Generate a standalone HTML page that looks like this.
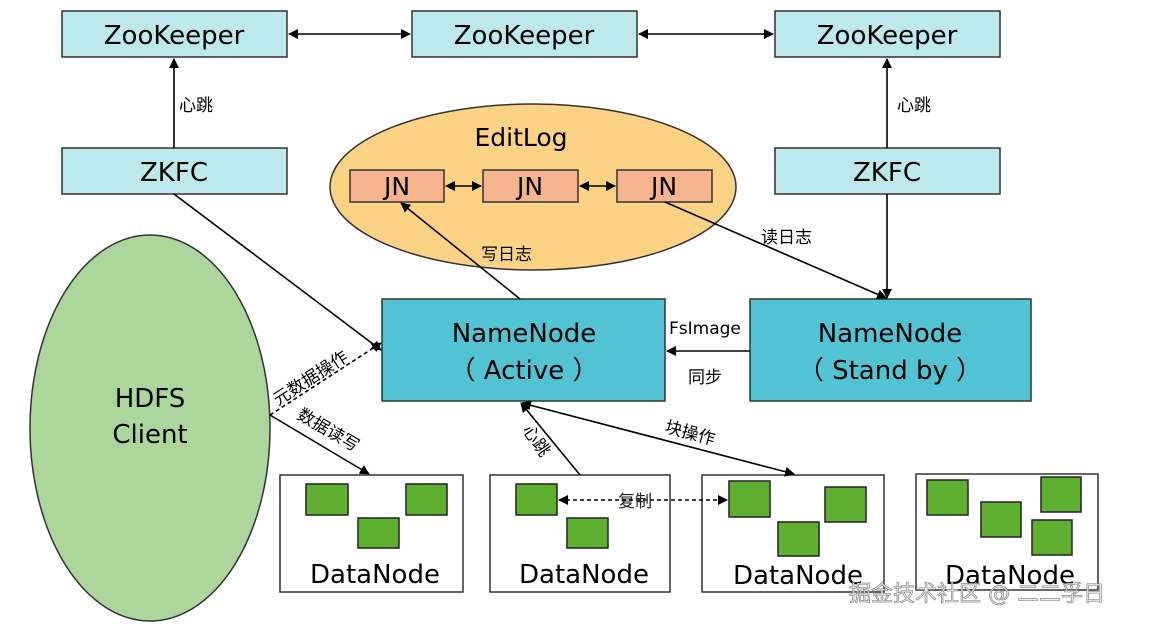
<!DOCTYPE html>
<html><head><meta charset="utf-8"><style>
html,body{margin:0;padding:0;background:#fff;width:1154px;height:624px;overflow:hidden}
svg text{font-family:"DejaVu Sans","Noto Sans CJK SC",sans-serif}
</style></head><body>
<svg width="1154" height="624" viewBox="0 0 1154 624" xmlns="http://www.w3.org/2000/svg">
<defs>
<marker id="a" markerWidth="10" markerHeight="10" refX="9" refY="5" orient="auto" markerUnits="userSpaceOnUse">
<path d="M0,0 L10,5 L0,10 z" fill="#000"/></marker>
<marker id="s" markerWidth="10" markerHeight="10" refX="1" refY="5" orient="auto" markerUnits="userSpaceOnUse">
<path d="M10,0 L0,5 L10,10 z" fill="#000"/></marker>
</defs>
<g stroke="#333" stroke-width="1.5">
<rect x="62" y="11" width="225" height="46" fill="#bde8ec"/>
<rect x="412" y="11" width="225" height="46" fill="#bde8ec"/>
<rect x="775" y="11" width="225" height="46" fill="#bde8ec"/>
<rect x="62" y="148" width="225" height="46" fill="#bde8ec"/>
<rect x="775" y="148" width="225" height="46" fill="#bde8ec"/>
<ellipse cx="533" cy="187" rx="203" ry="83" fill="#fcd384"/>
<rect x="350" y="170" width="94" height="32" fill="#f5b48e"/>
<rect x="483" y="170" width="95" height="32" fill="#f5b48e"/>
<rect x="617" y="170" width="95" height="32" fill="#f5b48e"/>
<rect x="382" y="299" width="283" height="102" fill="#52c3d3"/>
<rect x="750" y="299" width="281" height="102" fill="#52c3d3"/>
<ellipse cx="150" cy="428" rx="120" ry="193" fill="#abd69c"/>
<rect x="280" y="475" width="183" height="117" fill="#fff"/>
<rect x="490" y="475" width="180" height="117" fill="#fff"/>
<rect x="702" y="475" width="182" height="117" fill="#fff"/>
<rect x="916" y="474" width="182" height="116" fill="#fff"/>
</g>
<g fill="#5fb030" stroke="#222" stroke-width="1.5">
<rect x="306" y="484" width="42" height="31"/><rect x="406" y="484" width="41" height="31"/><rect x="358" y="518" width="41" height="30"/>
<rect x="516" y="484" width="41" height="31"/><rect x="567" y="518" width="41" height="30"/>
<rect x="729" y="481" width="41" height="36"/><rect x="825" y="487" width="41" height="35"/><rect x="778" y="522" width="41" height="34"/>
<rect x="927" y="480" width="41" height="35"/><rect x="1041" y="477" width="40" height="35"/><rect x="981" y="502" width="40" height="35"/><rect x="1032" y="520" width="40" height="35"/>
</g>
<g stroke="#000" stroke-width="1.6" fill="none">
<line x1="289" y1="34" x2="410" y2="34" marker-start="url(#s)" marker-end="url(#a)"/>
<line x1="639" y1="34" x2="773" y2="34" marker-start="url(#s)" marker-end="url(#a)"/>
<line x1="174" y1="148" x2="174" y2="59" marker-end="url(#a)"/>
<line x1="887" y1="148" x2="887" y2="59" marker-end="url(#a)"/>
<line x1="446" y1="186" x2="481" y2="186" marker-start="url(#s)" marker-end="url(#a)"/>
<line x1="580" y1="186" x2="615" y2="186" marker-start="url(#s)" marker-end="url(#a)"/>
<line x1="174" y1="194" x2="381" y2="350" marker-end="url(#a)"/>
<line x1="270" y1="415" x2="381" y2="343" stroke-dasharray="4,3" marker-end="url(#a)"/>
<line x1="270" y1="415" x2="369" y2="474" marker-end="url(#a)"/>
<line x1="520" y1="299" x2="401" y2="203" marker-end="url(#a)"/>
<line x1="665" y1="202" x2="886" y2="298" marker-end="url(#a)"/>
<line x1="887" y1="194" x2="887" y2="298" marker-end="url(#a)"/>
<line x1="750" y1="351" x2="667" y2="351" marker-end="url(#a)"/>
<line x1="580" y1="475" x2="521" y2="403" marker-end="url(#a)"/>
<line x1="522" y1="403" x2="794" y2="474" marker-start="url(#s)" marker-end="url(#a)"/>
<line x1="559" y1="500" x2="727" y2="500" stroke-dasharray="4,3" marker-start="url(#s)" marker-end="url(#a)"/>
</g>
<g font-size="26" text-anchor="middle" fill="#000">
<text x="174" y="44">ZooKeeper</text><text x="524" y="44">ZooKeeper</text><text x="887" y="44">ZooKeeper</text>
<text x="174" y="181">ZKFC</text><text x="887" y="181">ZKFC</text>
<text x="521" y="146" font-size="25">EditLog</text>
<text x="397" y="195" font-size="25">JN</text><text x="530" y="195" font-size="25">JN</text><text x="664" y="195" font-size="25">JN</text>
<text x="524" y="342">NameNode</text><text x="524" y="379">（ Active ）</text>
<text x="890" y="342">NameNode</text><text x="890" y="379">（ Stand by ）</text>
<text x="150" y="407">HDFS</text><text x="150" y="443">Client</text>
<text x="375" y="583">DataNode</text><text x="584" y="583">DataNode</text><text x="798" y="584">DataNode</text><text x="1010" y="584">DataNode</text>
</g>
<g font-size="17" fill="#000">
<text x="179" y="111">心跳</text><text x="897" y="111">心跳</text>
<text x="481" y="260">写日志</text><text x="761" y="243">读日志</text>
<text x="669" y="334">FsImage</text><text x="688" y="383">同步</text>
<text x="618" y="507" fill="#222">复制</text>
<text transform="translate(278,406) rotate(-33)">元数据操作</text>
<text transform="translate(296,418) rotate(30)">数据读写</text>
<text transform="translate(522,430) rotate(55)">心跳</text>
<text transform="translate(664,432) rotate(15)">块操作</text>
</g>
<text x="849" y="601" font-size="22" fill="#eee" stroke="#777" stroke-width="0.6">掘金技术社区 @ 二二孚日</text>
</svg>
</body></html>
